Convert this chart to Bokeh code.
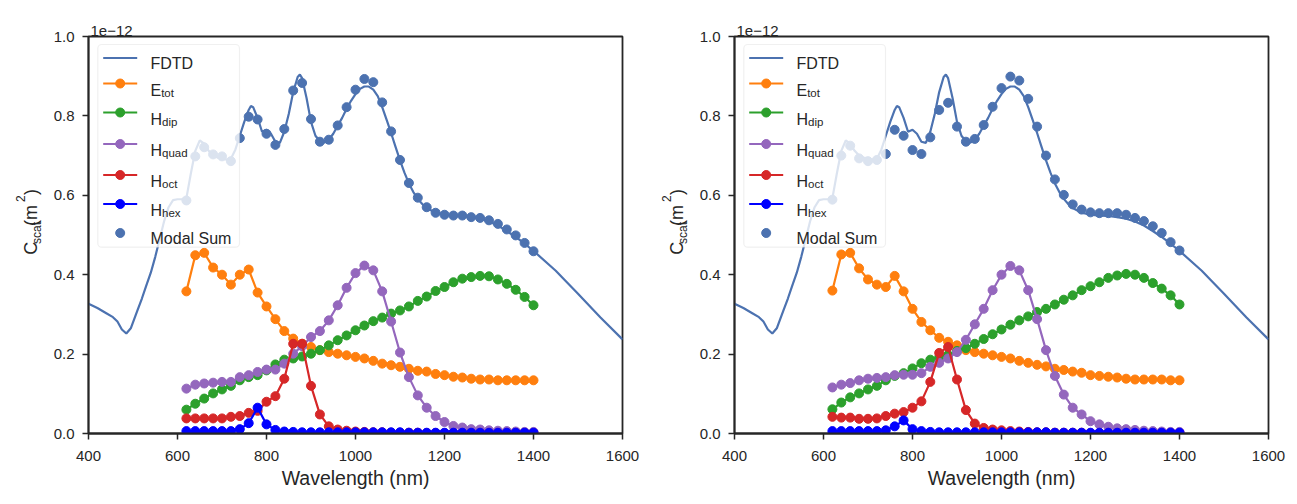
import math
from bokeh.plotting import figure
from bokeh.models import Range1d, FixedTicker, PrintfTickFormatter, Label, BoxAnnotation, Title
from bokeh.layouts import row
from bokeh.embed import file_html
from bokeh.resources import INLINE

# ---------------- data (cross sections in units of 1e-12 m^2) ----------------
wavelength = [620, 640, 660, 680, 700, 720, 740, 760, 780, 800,
              820, 840, 860, 880, 900, 920, 940, 960, 980, 1000,
              1020, 1040, 1060, 1080, 1100, 1120, 1140, 1160, 1180, 1200,
              1220, 1240, 1260, 1280, 1300, 1320, 1340, 1360, 1380, 1400]

fdtd_wl = [400, 420, 440, 455, 465, 475, 485, 495, 510, 520, 530, 540, 550, 560, 570, 580, 590, 600,
           610, 620, 630, 640, 650, 660, 670, 680, 690, 700, 710, 720, 730, 740, 750, 760, 765, 770,
           780, 790, 800, 810, 820, 830, 840, 850, 860, 870, 875, 880, 890, 900, 910, 920, 930, 940,
           950, 960, 970, 980, 990, 1000, 1010, 1020, 1030, 1040, 1050, 1060, 1070, 1080, 1090, 1100,
           1110, 1120, 1130, 1140, 1150, 1160, 1180, 1200, 1220, 1240, 1260, 1280, 1300, 1320, 1340,
           1360, 1380, 1400, 1450, 1500, 1550, 1600]
fdtd = [0.327, 0.316, 0.303, 0.293, 0.282, 0.262, 0.252, 0.265, 0.310, 0.340, 0.373, 0.405, 0.445, 0.490,
        0.535, 0.570, 0.588, 0.590, 0.590, 0.593, 0.655, 0.712, 0.738, 0.730, 0.712, 0.700, 0.695, 0.693,
        0.690, 0.692, 0.715, 0.750, 0.785, 0.815, 0.825, 0.822, 0.795, 0.760, 0.765, 0.755, 0.735, 0.732,
        0.760, 0.805, 0.860, 0.898, 0.904, 0.895, 0.845, 0.785, 0.750, 0.736, 0.733, 0.740, 0.755, 0.775,
        0.795, 0.818, 0.838, 0.855, 0.868, 0.874, 0.874, 0.866, 0.850, 0.822, 0.790, 0.757, 0.722, 0.688,
        0.657, 0.630, 0.608, 0.591, 0.578, 0.568, 0.556, 0.551, 0.549, 0.548, 0.545, 0.541, 0.534, 0.524,
        0.510, 0.495, 0.478, 0.460, 0.410, 0.352, 0.293, 0.237]

# left panel
etot_a = [0.358, 0.449, 0.455, 0.418, 0.400, 0.375, 0.400, 0.413, 0.355, 0.320,
          0.288, 0.258, 0.239, 0.226, 0.218, 0.210, 0.205, 0.201, 0.197, 0.193,
          0.189, 0.183, 0.176, 0.172, 0.168, 0.163, 0.158, 0.156, 0.150, 0.147,
          0.143, 0.141, 0.138, 0.136, 0.136, 0.134, 0.134, 0.134, 0.134, 0.134]
hdip_a = [0.060, 0.075, 0.088, 0.101, 0.111, 0.120, 0.134, 0.142, 0.147, 0.159,
          0.174, 0.186, 0.189, 0.194, 0.201, 0.210, 0.222, 0.235, 0.247, 0.260,
          0.272, 0.283, 0.292, 0.302, 0.310, 0.320, 0.334, 0.345, 0.359, 0.369,
          0.381, 0.390, 0.394, 0.397, 0.396, 0.388, 0.377, 0.362, 0.344, 0.323]
hquad_a = [0.113, 0.123, 0.126, 0.128, 0.130, 0.130, 0.142, 0.147, 0.155, 0.161,
           0.161, 0.176, 0.201, 0.220, 0.243, 0.258, 0.285, 0.323, 0.367, 0.404,
           0.423, 0.411, 0.358, 0.282, 0.204, 0.142, 0.096, 0.065, 0.044, 0.029,
           0.019, 0.015, 0.011, 0.010, 0.008, 0.007, 0.006, 0.005, 0.004, 0.004]
hoct_a = [0.038, 0.038, 0.038, 0.038, 0.038, 0.042, 0.044, 0.052, 0.057, 0.080,
          0.094, 0.138, 0.226, 0.226, 0.120, 0.048, 0.018, 0.010, 0.007, 0.005,
          0.004, 0.003, 0.003, 0.002, 0.002, 0.002, 0.002, 0.001, 0.001, 0.001,
          0.001, 0.001, 0.001, 0.001, 0.001, 0.001, 0.001, 0.001, 0.001, 0.001]
hhex_a = [0.006, 0.006, 0.006, 0.006, 0.006, 0.006, 0.011, 0.026, 0.065, 0.023,
          0.009, 0.005, 0.004, 0.003, 0.003, 0.003, 0.003, 0.003, 0.003, 0.003,
          0.003, 0.003, 0.003, 0.003, 0.003, 0.002, 0.002, 0.002, 0.002, 0.002,
          0.002, 0.002, 0.002, 0.002, 0.002, 0.002, 0.002, 0.002, 0.002, 0.002]
modal_a = [0.587, 0.698, 0.721, 0.703, 0.698, 0.686, 0.744, 0.798, 0.791, 0.755,
           0.727, 0.767, 0.864, 0.883, 0.792, 0.735, 0.740, 0.776, 0.822, 0.866,
           0.893, 0.885, 0.834, 0.761, 0.689, 0.631, 0.594, 0.570, 0.556, 0.551,
           0.549, 0.549, 0.545, 0.543, 0.537, 0.528, 0.514, 0.499, 0.480, 0.459]

# right panel
etot_b = [0.360, 0.451, 0.455, 0.416, 0.388, 0.375, 0.369, 0.397, 0.358, 0.314,
          0.281, 0.260, 0.241, 0.231, 0.222, 0.210, 0.205, 0.201, 0.197, 0.193,
          0.189, 0.183, 0.178, 0.173, 0.169, 0.163, 0.160, 0.156, 0.153, 0.147,
          0.145, 0.143, 0.141, 0.138, 0.136, 0.136, 0.136, 0.136, 0.134, 0.134]
hdip_b = [0.061, 0.078, 0.091, 0.101, 0.111, 0.120, 0.134, 0.145, 0.152, 0.164,
          0.177, 0.186, 0.192, 0.198, 0.208, 0.215, 0.226, 0.238, 0.250, 0.262,
          0.274, 0.285, 0.295, 0.306, 0.314, 0.325, 0.337, 0.348, 0.361, 0.371,
          0.381, 0.392, 0.398, 0.402, 0.400, 0.392, 0.379, 0.365, 0.348, 0.325]
hquad_b = [0.116, 0.123, 0.127, 0.134, 0.138, 0.140, 0.142, 0.147, 0.148, 0.148,
           0.152, 0.168, 0.178, 0.189, 0.205, 0.236, 0.275, 0.314, 0.361, 0.400,
           0.422, 0.411, 0.361, 0.288, 0.210, 0.145, 0.098, 0.065, 0.048, 0.031,
           0.023, 0.017, 0.013, 0.011, 0.009, 0.007, 0.006, 0.005, 0.004, 0.004]
hoct_b = [0.042, 0.040, 0.040, 0.037, 0.037, 0.038, 0.044, 0.050, 0.054, 0.065,
          0.081, 0.130, 0.203, 0.218, 0.136, 0.059, 0.025, 0.014, 0.010, 0.008,
          0.006, 0.005, 0.004, 0.003, 0.003, 0.002, 0.002, 0.002, 0.002, 0.001,
          0.001, 0.001, 0.001, 0.001, 0.001, 0.001, 0.001, 0.001, 0.001, 0.001]
hhex_b = [0.006, 0.006, 0.006, 0.006, 0.006, 0.006, 0.008, 0.018, 0.033, 0.011,
          0.006, 0.004, 0.003, 0.003, 0.003, 0.003, 0.003, 0.003, 0.003, 0.003,
          0.003, 0.003, 0.003, 0.003, 0.003, 0.002, 0.002, 0.002, 0.002, 0.002,
          0.002, 0.002, 0.002, 0.002, 0.002, 0.002, 0.002, 0.002, 0.002, 0.002]
modal_b = [0.589, 0.700, 0.725, 0.693, 0.686, 0.689, 0.704, 0.765, 0.750, 0.714,
           0.704, 0.746, 0.815, 0.833, 0.773, 0.735, 0.742, 0.777, 0.823, 0.870,
           0.899, 0.889, 0.843, 0.773, 0.700, 0.640, 0.601, 0.577, 0.564, 0.557,
           0.555, 0.555, 0.555, 0.551, 0.543, 0.535, 0.522, 0.505, 0.482, 0.461]

x_ticks = [400, 600, 800, 1000, 1200, 1400, 1600]
y_ticks = [0.0, 0.2, 0.4, 0.6, 0.8, 1.0]
legend_main = ["FDTD", "E", "H", "H", "H", "H", "Modal Sum"]
legend_sub = ["", "tot", "dip", "quad", "oct", "hex", ""]
ylabel_parts = ["C", "scat", "(m", "2", ")"]

# ---------------- style / geometry ----------------
FONT = "Liberation Sans"
INK = "#262626"
C_FDTD = "#4c72b0"
C_SERIES = ["#ff7f0e", "#2ca02c", "#9467bd", "#d62728", "#0000ff"]

H = 500                 # figure height
YL_W = 45               # width of the y-label strip
PX0, PY0, FW, FH = 88, 36, 534, 397   # frame position in panel pixels
X0, X1, Y0, Y1 = 400, 1600, 0.0, 1.0


def fx(px):
    return X0 + (px - PX0) * (X1 - X0) / FW


def fy(py):
    return Y1 - (py - PY0) * (Y1 - Y0) / FH


def label(p, x, y, text, size, angle=0.0, align="left", baseline="alphabetic", conv=True):
    p.add_layout(Label(x=fx(x) if conv else x, y=fy(y) if conv else y, text=text,
                       text_font=FONT, text_font_size=f"{size}px", text_color=INK,
                       angle=angle, text_align=align, text_baseline=baseline,
                       level="overlay"))


def ylabel_strip():
    s = figure(width=YL_W, height=H, output_backend="svg", toolbar_location=None,
               x_range=Range1d(0, YL_W), y_range=Range1d(H, 0),
               x_axis_type=None, y_axis_type=None, min_border=0)
    s.outline_line_color = None
    s.grid.visible = False
    s.background_fill_color = "white"
    s.border_fill_color = "white"
    a = math.pi / 2
    # (centre x, centre y, font size) of each rotated piece
    spots = [(30.0, 266.8, 18), (36.3, 247.5, 12), (30.3, 225.5, 18), (19.8, 204.2, 12), (30.3, 196.0, 18)]
    for txt, (cx, cy, fs) in zip(ylabel_parts, spots):
        label(s, cx, cy, txt, fs, angle=a, align="center", baseline="middle", conv=False)
    return s


def make_panel(width, series, modal):
    left = PX0 - YL_W
    p = figure(width=width, height=H, output_backend="svg", toolbar_location=None,
               x_range=Range1d(X0, X1), y_range=Range1d(Y0, Y1),
               min_border_left=left, min_border_right=width - left - FW,
               min_border_top=PY0, min_border_bottom=H - PY0 - FH)
    p.add_layout(Title(text="1e\u221212", align="left", offset=2, standoff=2,
                       text_font=FONT, text_font_size="15px", text_font_style="normal",
                       text_color=INK), "above")
    p.background_fill_color = "white"
    p.border_fill_color = "white"
    p.grid.visible = False
    p.outline_line_color = INK
    p.outline_line_width = 1.8
    for ax in (p.xaxis, p.yaxis):
        ax.axis_line_color = INK
        ax.axis_line_width = 1.8
        ax.major_tick_in = 0
        ax.major_tick_out = 6
        ax.major_tick_line_color = INK
        ax.major_tick_line_width = 1.5
        ax.minor_tick_in = 0
        ax.minor_tick_out = 0
        ax.major_label_text_font = FONT
        ax.major_label_text_font_size = "15px"
        ax.major_label_text_color = INK
    p.xaxis.ticker = FixedTicker(ticks=x_ticks)
    p.yaxis.ticker = FixedTicker(ticks=y_ticks)
    p.yaxis.formatter = PrintfTickFormatter(format="%.1f")
    p.xaxis.major_label_standoff = 11
    p.yaxis.major_label_standoff = 8
    p.xaxis.axis_label = "Wavelength (nm)"
    p.xaxis.axis_label_text_font = FONT
    p.xaxis.axis_label_text_font_size = "19.5px"
    p.xaxis.axis_label_text_font_style = "normal"
    p.xaxis.axis_label_text_color = INK
    p.xaxis.axis_label_standoff = 3

    # data
    p.line(fdtd_wl, fdtd, line_color=C_FDTD, line_width=2.2)
    for vals, col in zip(series, C_SERIES):
        p.line(wavelength, vals, line_color=col, line_width=2.2)
        p.scatter(wavelength, vals, size=9, fill_color=col, line_color=col)
    p.scatter(wavelength, modal, size=9, fill_color=C_FDTD, line_color=C_FDTD)

    # legend
    p.add_layout(BoxAnnotation(left=fx(97.3), right=fx(239), top=fy(44), bottom=fy(246.7),
                               fill_color="white", fill_alpha=0.8, line_color="#cccccc",
                               line_width=1.2, border_radius=4, level="annotation"))
    rows_y = [57.5, 83, 112, 143.5, 174.5, 203.5, 232.5]
    colors = [C_FDTD] + C_SERIES + [C_FDTD]
    for i, (ry, col) in enumerate(zip(rows_y, colors)):
        if i < 6:
            r = p.line([fx(102.7), fx(136.7)], [fy(ry), fy(ry)], line_color=col, line_width=2.2)
            r.level = "overlay"
        if i > 0:
            r = p.scatter([fx(119.7)], [fy(ry)], size=9, fill_color=col, line_color=col)
            r.level = "overlay"
        main, sub = legend_main[i], legend_sub[i]
        if sub:
            base = ry + 6.75
            label(p, 150, base, main, 16)
            w = (0.667 if main == "E" else 0.722) * 16
            label(p, 150 + w, base + 2.5, sub, 11.5)
        else:
            label(p, 150, ry + 5.75, main, 16)
    return p


p1 = make_panel(646 - YL_W, [etot_a, hdip_a, hquad_a, hoct_a, hhex_a], modal_a)
p2 = make_panel(600, [etot_b, hdip_b, hquad_b, hoct_b, hhex_b], modal_b)
layout = row(ylabel_strip(), p1, ylabel_strip(), p2, spacing=0)

open("out.html", "w").write(file_html(layout, INLINE))
